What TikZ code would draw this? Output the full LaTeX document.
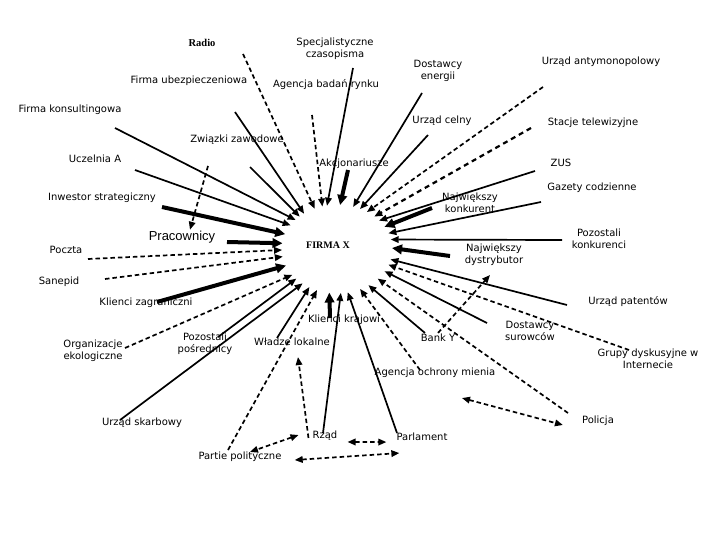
\documentclass[tikz,border=0pt]{standalone}
\usepackage{fontspec}
\setmainfont{DejaVu Sans}
\newfontfamily\serifface{Liberation Serif}
\newfontfamily\arialface{Liberation Sans}
\usetikzlibrary{arrows.meta,shapes.geometric}

\begin{document}
\begin{tikzpicture}[x=1pt,y=-1pt,
  lbl/.style={font=\fontsize{10}{12}\selectfont,align=center,inner sep=1pt},
  hub/.style={ellipse,minimum width=110pt,minimum height=88pt,inner sep=0pt,outer sep=0pt},
  link/.style={-{Triangle[length=8pt,width=6.5pt]},line width=1.7pt},
  dlink/.style={link,dash pattern=on 4.5pt off 3pt},
  biglink/.style={-{Triangle[length=10pt,width=9.5pt]},line width=4pt},
  ddlink/.style={{Triangle[length=8pt,width=6.5pt]}-{Triangle[length=8pt,width=6.5pt]},
    line width=1.7pt,dash pattern=on 4.5pt off 3pt}
]
  \useasboundingbox (0,0) rectangle (720,540);
  % Firm in the middle
  \node[lbl,font=\serifface\bfseries\fontsize{10}{12}\selectfont] (firma) at (328,245) {FIRMA X};
  \node[hub] (hub) at (337,249) {};
  % Labels, top
  \node[lbl,font=\serifface\bfseries\fontsize{10.5}{12}\selectfont] (radio) at (202,43) {Radio};
  \node[lbl] (czasopisma) at (335,49) {Specjalistyczne\\czasopisma};
  \node[lbl] (ubezp) at (189,81) {Firma ubezpieczeniowa};
  \node[lbl] (badania) at (326,85) {Agencja badań rynku};
  \node[lbl] (energia) at (438,71) {Dostawcy\\energii};
  \node[lbl] (antymon) at (601,62) {Urząd antymonopolowy};
  \node[lbl] (konsult) at (70,110) {Firma konsultingowa};
  \node[lbl] (celny) at (442,121) {Urząd celny};
  \node[lbl] (stacje) at (593,123) {Stacje telewizyjne};
  \node[lbl] (zwiazki) at (237,140) {Związki zawodowe};
  \node[lbl] (uczelnia) at (95,159) {Uczelnia A};
  \node[lbl] (akcjon) at (354,164) {Akcjonariusze};
  \node[lbl] (zus) at (561,163) {ZUS};
  % Labels, middle
  \node[lbl] (inwestor) at (102,198) {Inwestor strategiczny};
  \node[lbl] (gazety) at (592,188) {Gazety codzienne};
  \node[lbl] (konkurent) at (470,203) {Największy\\konkurent};
  \node[lbl,font=\arialface\fontsize{13}{15}\selectfont] (pracownicy) at (182,237) {Pracownicy};
  \node[lbl] (poczta) at (66,250) {Poczta};
  \node[lbl] (pozkonk) at (599,239) {Pozostali\\konkurenci};
  \node[lbl] (dystryb) at (494,255) {Największy\\dystrybutor};
  \node[lbl] (sanepid) at (59,282) {Sanepid};
  \node[lbl] (patenty) at (628,302) {Urząd patentów};
  \node[lbl] (zagran) at (146,303) {Klienci zagraniczni};
  % Labels, bottom
  \node[lbl] (krajowi) at (344,320) {Klienci krajowi};
  \node[lbl] (surowce) at (530,331) {Dostawcy\\surowców};
  \node[lbl] (ekolog) at (93,351) {Organizacje\\ekologiczne};
  \node[lbl] (posred) at (205,344) {Pozostali\\pośrednicy};
  \node[lbl] (wladze) at (292,342) {Władze lokalne};
  \node[lbl] (banky) at (438,338) {Bank Y};
  \node[lbl] (grupy) at (648,359) {Grupy dyskusyjne w\\Internecie};
  \node[lbl] (ochrona) at (435,373) {Agencja ochrony mienia};
  \node[lbl] (skarb) at (142,423) {Urząd skarbowy};
  \node[lbl] (policja) at (598,421) {Policja};
  \node[lbl] (rzad) at (325,436) {Rząd};
  \node[lbl] (parlament) at (422,437) {Parlament};
  \node[lbl] (partie) at (240,457) {Partie polityczne};
  % Where the arrows to the firm begin
  \coordinate (s-radio) at (243,54);
  \coordinate (s-ubezp) at (235,112);
  \coordinate (s-zwiazki) at (250,167);
  \coordinate (s-konsult) at (115,128);
  \coordinate (s-badania) at (312,115);
  \coordinate (s-czasopisma) at (353,68);
  \coordinate (s-akcjon) at (348,170);
  \coordinate (s-energia) at (422,93);
  \coordinate (s-celny) at (428,135);
  \coordinate (s-antymon) at (543,87);
  \coordinate (s-stacje) at (531,128);
  \coordinate (s-zus) at (535,171);
  \coordinate (s-konkurent) at (432,208);
  \coordinate (s-gazety) at (541,202);
  \coordinate (s-pozkonk) at (562,240);
  \coordinate (s-dystryb) at (450,256);
  \coordinate (s-patenty) at (567,305);
  \coordinate (s-grupy) at (629,350);
  \coordinate (s-surowce) at (487,323);
  \coordinate (s-policja) at (568,413);
  \coordinate (s-banky) at (425,333);
  \coordinate (s-ochrona) at (420,370);
  \coordinate (s-parlament) at (397,433);
  \coordinate (s-rzad) at (323,433);
  \coordinate (s-krajowi) at (330,318);
  \coordinate (s-partie) at (228,450);
  \coordinate (s-wladze) at (277,338);
  \coordinate (s-skarb) at (120,420);
  \coordinate (s-posred) at (218,337);
  \coordinate (s-ekolog) at (125,348);
  \coordinate (s-zagran) at (157,302);
  \coordinate (s-sanepid) at (105,279);
  \coordinate (s-poczta) at (88,259);
  \coordinate (s-pracownicy) at (227,242);
  \coordinate (s-inwestor) at (162,207);
  \coordinate (s-uczelnia) at (135,170);
  % Arrows from the top
  \draw[dlink] (s-radio) -- (hub.119);
  \draw[link] (s-ubezp) -- (hub.133);
  \draw[link] (s-zwiazki) -- (hub.139);
  \draw[link] (s-konsult) -- (hub.145);
  \draw[dlink] (s-badania) -- (hub.109);
  \draw[link] (s-czasopisma) -- (hub.103);
  \draw[biglink] (s-akcjon) -- (hub.86);
  \draw[link] (s-energia) -- (hub.69);
  \draw[link] (s-celny) -- (hub.60);
  \draw[dlink] (s-antymon) -- (hub.51);
  \draw[dlink,line width=2.2pt,dash pattern=on 5pt off 4pt] (s-stacje) -- (hub.41);
  \draw[link] (s-zus) -- (hub.34);
  % Arrows from the right
  \draw[biglink] (s-konkurent) -- (hub.25);
  \draw[link] (s-gazety) -- (hub.17);
  \draw[link] (s-pozkonk) -- (hub.10);
  \draw[biglink] (s-dystryb) -- (hub.1);
  \draw[link] (s-patenty) -- (hub.-11);
  \draw[dlink] (s-grupy) -- (hub.-17);
  \draw[link] (s-surowce) -- (hub.-25);
  \draw[dlink] (s-policja) -- (hub.-36);
  \draw[link] (s-banky) -- (hub.-49);
  % Arrows from the bottom
  \draw[dlink] (s-ochrona) -- (hub.-60);
  \draw[link] (s-parlament) -- (hub.-76);
  \draw[link] (s-rzad) -- (hub.-85);
  \draw[biglink] (s-krajowi) -- (hub.-100);
  \draw[dlink] (s-partie) -- (hub.-116);
  \draw[link] (s-wladze) -- (hub.-126);
  \draw[link] (s-skarb) -- (hub.-135);
  \draw[link] (s-posred) -- (hub.-144);
  \draw[dlink] (s-ekolog) -- (hub.-150);
  % Arrows from the left
  \draw[biglink] (s-zagran) -- (hub.-162);
  \draw[dlink] (s-sanepid) -- (hub.-172);
  \draw[dlink] (s-poczta) -- (hub.-179);
  \draw[biglink] (s-pracownicy) -- (hub.174);
  \draw[biglink] (s-inwestor) -- (hub.164);
  \draw[link] (s-uczelnia) -- (hub.153);
  % Links between the other actors
  \draw[dlink] ([xshift=-29pt,yshift=-20pt]zwiazki.south) -- ([xshift=8pt]pracownicy.north);
  \draw[dlink] (banky.north) -- ([xshift=-4pt,yshift=-8pt]dystryb.south);
  \draw[dlink] ([xshift=-3pt,yshift=-2pt]rzad.west) -- ([xshift=6pt,yshift=-10pt]wladze.south);
  \draw[ddlink] ([xshift=-13pt,yshift=1pt]rzad.west) -- ([xshift=10pt,yshift=-1pt]partie.north);
  \draw[ddlink] ([xshift=9pt]rzad.south east) -- ([xshift=-9pt]parlament.south west);
  \draw[ddlink] ([xshift=12pt,yshift=-3pt]partie.east) -- ([xshift=4pt,yshift=-11pt]parlament.south west);
  \draw[ddlink] ([xshift=27pt,yshift=-19pt]ochrona.south) -- ([xshift=-18pt,yshift=-4pt]policja.west);
\end{tikzpicture}
\end{document}
